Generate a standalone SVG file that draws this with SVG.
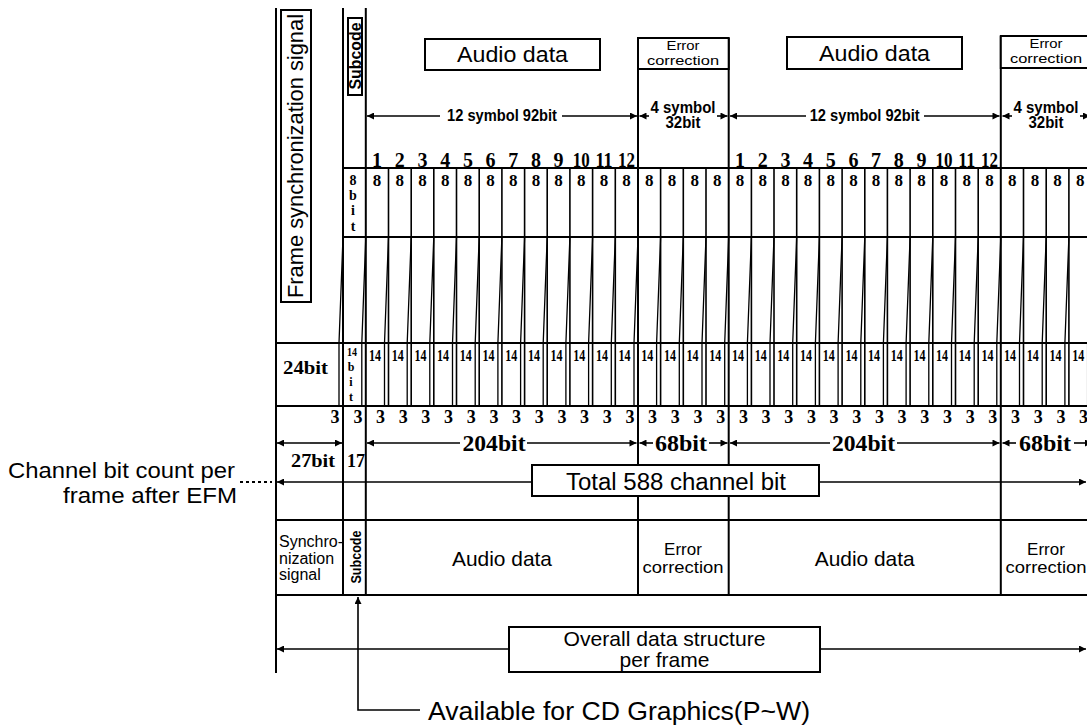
<svg xmlns="http://www.w3.org/2000/svg" width="1087" height="727" viewBox="0 0 1087 727">
<defs>
<marker id="ah" viewBox="0 0 10 10" refX="10" refY="5" markerWidth="10" markerHeight="7" markerUnits="userSpaceOnUse" orient="auto-start-reverse"><path d="M0,0 L10,5 L0,10 z" fill="#000"/></marker>
</defs>
<style>
.ln{stroke:#000;stroke-width:2;fill:none}
.th{stroke:#000;stroke-width:1.6;fill:none}
.sl{stroke:#000;stroke-width:1.3;fill:none}
.ar{stroke:#000;stroke-width:1.6;fill:none;marker-end:url(#ah)}
.box{fill:#fff;stroke:#000;stroke-width:2}
.s{font-family:"Liberation Sans",Arial,sans-serif;fill:#000}
.c{text-anchor:middle}
.d{font-family:"Liberation Serif","Times New Roman",serif;font-weight:bold;fill:#000;text-anchor:middle}
.n1{font-size:20px}
.n8{font-size:17px}
.n14{font-size:16px}
.n3{font-size:18px}
.nb{font-size:24px}
</style>
<rect x="0" y="0" width="1087" height="727" fill="#fff"/>

<g id="grid">
<path class="ln" d="M343,168H1087 M343,237H1087 M276,343H1087 M276,406H1087 M276,520H1087 M276,595H1087"/>
<path class="ln" d="M276,8V673 M343,8V595 M365.8,8V595 M638,38V465 M638,496V595 M728.7,38V465 M728.7,496V595 M1000.8,36V595"/>
<path class="th" d="M388.5,168V406 M411.2,168V406 M433.8,168V406 M456.5,168V406 M479.2,168V406 M501.9,168V406 M524.6,168V406 M547.2,168V406 M569.9,168V406 M592.6,168V406 M615.3,168V406 M660.6,168V406 M683.3,168V406 M706,168V406 M751.4,168V406 M774,168V406 M796.7,168V406 M819.4,168V406 M842.1,168V406 M864.8,168V406 M887.4,168V406 M910.1,168V406 M932.8,168V406 M955.5,168V406 M978.2,168V406 M1023.5,168V406 M1046.2,168V406 M1068.9,168V406"/>
<path class="sl" d="M343,237L339,343V406 M365.8,237L361.8,343V406 M388.5,237L384.5,343V406 M411.2,237L407.2,343V406 M433.8,237L429.8,343V406 M456.5,237L452.5,343V406 M479.2,237L475.2,343V406 M501.9,237L497.9,343V406 M524.6,237L520.6,343V406 M547.2,237L543.2,343V406 M569.9,237L565.9,343V406 M592.6,237L588.6,343V406 M615.3,237L611.3,343V406 M638,237L634,343V406 M660.6,237L656.6,343V406 M683.3,237L679.3,343V406 M706,237L702,343V406 M728.7,237L724.7,343V406 M751.4,237L747.4,343V406 M774,237L770,343V406 M796.7,237L792.7,343V406 M819.4,237L815.4,343V406 M842.1,237L838.1,343V406 M864.8,237L860.8,343V406 M887.4,237L883.4,343V406 M910.1,237L906.1,343V406 M932.8,237L928.8,343V406 M955.5,237L951.5,343V406 M978.2,237L974.2,343V406 M1000.8,237L996.8,343V406 M1023.5,237L1019.5,343V406 M1046.2,237L1042.2,343V406 M1068.9,237L1064.9,343V406 M1091.6,237L1087.6,343V406"/>
</g>

<g id="frame-sync">
<rect class="box" x="281" y="10" width="30" height="292"/>
<text class="s c" font-size="22" transform="translate(303,156) rotate(-90)" textLength="284" lengthAdjust="spacingAndGlyphs">Frame synchronization signal</text>
<text class="d" font-size="19" x="305.5" y="374" textLength="45" lengthAdjust="spacingAndGlyphs">24bit</text>
<text class="d n3" x="335" y="423">3</text>
<text class="d" font-size="18" x="313" y="467" textLength="44" lengthAdjust="spacingAndGlyphs">27bit</text>
<text class="s" font-size="16" x="279" y="547" textLength="64" lengthAdjust="spacingAndGlyphs">Synchro-</text>
<text class="s" font-size="16" x="279" y="564">nization</text>
<text class="s" font-size="16" x="279" y="580">signal</text>
</g>

<g id="subcode">
<rect class="box" x="348" y="18" width="14" height="77"/>
<text class="s c" font-size="16" font-weight="bold" transform="translate(361,56) rotate(-90)" textLength="67" lengthAdjust="spacingAndGlyphs">Subcode</text>
<text class="d" font-size="14" x="353" y="185">8</text>
<text class="d" font-size="14" x="353" y="200">b</text>
<text class="d" font-size="14" x="353" y="215">i</text>
<text class="d" font-size="14" x="353" y="231">t</text>
<text class="d" font-size="12" x="352" y="356" textLength="10" lengthAdjust="spacingAndGlyphs">14</text>
<text class="d" font-size="12" x="351" y="371">b</text>
<text class="d" font-size="12" x="351" y="386">i</text>
<text class="d" font-size="12" x="351" y="401">t</text>
<text class="d n3" x="358" y="423">3</text>
<text class="d" font-size="18" x="356" y="467">17</text>
<text class="s c" font-size="14" font-weight="bold" transform="translate(361,557) rotate(-90)" textLength="53" lengthAdjust="spacingAndGlyphs">Subcode</text>
</g>

<g id="audio-data-1">
<rect class="box" x="425" y="39" width="175" height="31"/>
<text class="s c" font-size="22" x="512.5" y="62" textLength="111" lengthAdjust="spacingAndGlyphs">Audio data</text>
<text class="s c" font-size="21" x="502" y="566" textLength="100" lengthAdjust="spacingAndGlyphs">Audio data</text>
</g>
<g id="error-correction-1">
<rect class="box" x="638" y="38" width="90.7" height="31"/>
<text class="s c" font-size="13" x="683" y="50" textLength="33" lengthAdjust="spacingAndGlyphs">Error</text>
<text class="s c" font-size="13" x="683" y="65" textLength="72" lengthAdjust="spacingAndGlyphs">correction</text>
<text class="s c" font-size="17" x="683" y="555">Error</text>
<text class="s c" font-size="17" x="683" y="573" textLength="81" lengthAdjust="spacingAndGlyphs">correction</text>
</g>
<g id="audio-data-2">
<rect class="box" x="787" y="37" width="175" height="32"/>
<text class="s c" font-size="22" x="874.5" y="61" textLength="111" lengthAdjust="spacingAndGlyphs">Audio data</text>
<text class="s c" font-size="21" x="864.7" y="566" textLength="100" lengthAdjust="spacingAndGlyphs">Audio data</text>
</g>
<g id="error-correction-2">
<rect class="box" x="1000.8" y="36" width="100" height="32"/>
<text class="s c" font-size="13" x="1046" y="48" textLength="33" lengthAdjust="spacingAndGlyphs">Error</text>
<text class="s c" font-size="13" x="1046" y="63" textLength="72" lengthAdjust="spacingAndGlyphs">correction</text>
<text class="s c" font-size="17" x="1046" y="555">Error</text>
<text class="s c" font-size="17" x="1046" y="573" textLength="81" lengthAdjust="spacingAndGlyphs">correction</text>
</g>

<g id="symbol-numbers">
<text class="d n1" x="377.1" y="167">1</text><text class="d n1" x="399.8" y="167">2</text><text class="d n1" x="422.5" y="167">3</text><text class="d n1" x="445.2" y="167">4</text><text class="d n1" x="467.9" y="167">5</text><text class="d n1" x="490.5" y="167">6</text><text class="d n1" x="513.2" y="167">7</text><text class="d n1" x="535.9" y="167">8</text><text class="d n1" x="558.6" y="167">9</text><text class="d n1" x="581.3" y="167" textLength="17" lengthAdjust="spacingAndGlyphs">10</text><text class="d n1" x="603.9" y="167" textLength="17" lengthAdjust="spacingAndGlyphs">11</text><text class="d n1" x="626.6" y="167" textLength="17" lengthAdjust="spacingAndGlyphs">12</text>
<text class="d n1" x="740" y="167">1</text><text class="d n1" x="762.7" y="167">2</text><text class="d n1" x="785.4" y="167">3</text><text class="d n1" x="808.1" y="167">4</text><text class="d n1" x="830.7" y="167">5</text><text class="d n1" x="853.4" y="167">6</text><text class="d n1" x="876.1" y="167">7</text><text class="d n1" x="898.8" y="167">8</text><text class="d n1" x="921.5" y="167">9</text><text class="d n1" x="944.1" y="167" textLength="17" lengthAdjust="spacingAndGlyphs">10</text><text class="d n1" x="966.8" y="167" textLength="17" lengthAdjust="spacingAndGlyphs">11</text><text class="d n1" x="989.5" y="167" textLength="17" lengthAdjust="spacingAndGlyphs">12</text>
</g>

<g id="bits-8">
<text class="d n8" x="377.1" y="186">8</text><text class="d n8" x="399.8" y="186">8</text><text class="d n8" x="422.5" y="186">8</text><text class="d n8" x="445.2" y="186">8</text><text class="d n8" x="467.9" y="186">8</text><text class="d n8" x="490.5" y="186">8</text><text class="d n8" x="513.2" y="186">8</text><text class="d n8" x="535.9" y="186">8</text><text class="d n8" x="558.6" y="186">8</text><text class="d n8" x="581.3" y="186">8</text><text class="d n8" x="603.9" y="186">8</text><text class="d n8" x="626.6" y="186">8</text><text class="d n8" x="649.3" y="186">8</text><text class="d n8" x="672" y="186">8</text><text class="d n8" x="694.7" y="186">8</text><text class="d n8" x="717.3" y="186">8</text>
<text class="d n8" x="740" y="186">8</text><text class="d n8" x="762.7" y="186">8</text><text class="d n8" x="785.4" y="186">8</text><text class="d n8" x="808.1" y="186">8</text><text class="d n8" x="830.7" y="186">8</text><text class="d n8" x="853.4" y="186">8</text><text class="d n8" x="876.1" y="186">8</text><text class="d n8" x="898.8" y="186">8</text><text class="d n8" x="921.5" y="186">8</text><text class="d n8" x="944.1" y="186">8</text><text class="d n8" x="966.8" y="186">8</text><text class="d n8" x="989.5" y="186">8</text><text class="d n8" x="1012.2" y="186">8</text><text class="d n8" x="1034.9" y="186">8</text><text class="d n8" x="1057.5" y="186">8</text><text class="d n8" x="1080.2" y="186">8</text>
</g>

<g id="bits-14">
<text class="d n14" x="375.1" y="361" textLength="12" lengthAdjust="spacingAndGlyphs">14</text><text class="d n14" x="397.8" y="361" textLength="12" lengthAdjust="spacingAndGlyphs">14</text><text class="d n14" x="420.5" y="361" textLength="12" lengthAdjust="spacingAndGlyphs">14</text><text class="d n14" x="443.1" y="361" textLength="12" lengthAdjust="spacingAndGlyphs">14</text><text class="d n14" x="465.8" y="361" textLength="12" lengthAdjust="spacingAndGlyphs">14</text><text class="d n14" x="488.5" y="361" textLength="12" lengthAdjust="spacingAndGlyphs">14</text><text class="d n14" x="511.2" y="361" textLength="12" lengthAdjust="spacingAndGlyphs">14</text><text class="d n14" x="533.9" y="361" textLength="12" lengthAdjust="spacingAndGlyphs">14</text><text class="d n14" x="556.5" y="361" textLength="12" lengthAdjust="spacingAndGlyphs">14</text><text class="d n14" x="579.2" y="361" textLength="12" lengthAdjust="spacingAndGlyphs">14</text><text class="d n14" x="601.9" y="361" textLength="12" lengthAdjust="spacingAndGlyphs">14</text><text class="d n14" x="624.6" y="361" textLength="12" lengthAdjust="spacingAndGlyphs">14</text><text class="d n14" x="647.3" y="361" textLength="12" lengthAdjust="spacingAndGlyphs">14</text><text class="d n14" x="669.9" y="361" textLength="12" lengthAdjust="spacingAndGlyphs">14</text><text class="d n14" x="692.6" y="361" textLength="12" lengthAdjust="spacingAndGlyphs">14</text><text class="d n14" x="715.3" y="361" textLength="12" lengthAdjust="spacingAndGlyphs">14</text>
<text class="d n14" x="738" y="361" textLength="12" lengthAdjust="spacingAndGlyphs">14</text><text class="d n14" x="760.7" y="361" textLength="12" lengthAdjust="spacingAndGlyphs">14</text><text class="d n14" x="783.3" y="361" textLength="12" lengthAdjust="spacingAndGlyphs">14</text><text class="d n14" x="806" y="361" textLength="12" lengthAdjust="spacingAndGlyphs">14</text><text class="d n14" x="828.7" y="361" textLength="12" lengthAdjust="spacingAndGlyphs">14</text><text class="d n14" x="851.4" y="361" textLength="12" lengthAdjust="spacingAndGlyphs">14</text><text class="d n14" x="874.1" y="361" textLength="12" lengthAdjust="spacingAndGlyphs">14</text><text class="d n14" x="896.7" y="361" textLength="12" lengthAdjust="spacingAndGlyphs">14</text><text class="d n14" x="919.4" y="361" textLength="12" lengthAdjust="spacingAndGlyphs">14</text><text class="d n14" x="942.1" y="361" textLength="12" lengthAdjust="spacingAndGlyphs">14</text><text class="d n14" x="964.8" y="361" textLength="12" lengthAdjust="spacingAndGlyphs">14</text><text class="d n14" x="987.5" y="361" textLength="12" lengthAdjust="spacingAndGlyphs">14</text><text class="d n14" x="1010.1" y="361" textLength="12" lengthAdjust="spacingAndGlyphs">14</text><text class="d n14" x="1032.8" y="361" textLength="12" lengthAdjust="spacingAndGlyphs">14</text><text class="d n14" x="1055.5" y="361" textLength="12" lengthAdjust="spacingAndGlyphs">14</text><text class="d n14" x="1078.2" y="361" textLength="12" lengthAdjust="spacingAndGlyphs">14</text>
</g>

<g id="bits-3">
<text class="d n3" x="380.5" y="423">3</text><text class="d n3" x="403.2" y="423">3</text><text class="d n3" x="425.8" y="423">3</text><text class="d n3" x="448.5" y="423">3</text><text class="d n3" x="471.2" y="423">3</text><text class="d n3" x="493.9" y="423">3</text><text class="d n3" x="516.6" y="423">3</text><text class="d n3" x="539.2" y="423">3</text><text class="d n3" x="561.9" y="423">3</text><text class="d n3" x="584.6" y="423">3</text><text class="d n3" x="607.3" y="423">3</text><text class="d n3" x="630" y="423">3</text><text class="d n3" x="652.6" y="423">3</text><text class="d n3" x="675.3" y="423">3</text><text class="d n3" x="698" y="423">3</text><text class="d n3" x="720.7" y="423">3</text>
<text class="d n3" x="743.4" y="423">3</text><text class="d n3" x="766" y="423">3</text><text class="d n3" x="788.7" y="423">3</text><text class="d n3" x="811.4" y="423">3</text><text class="d n3" x="834.1" y="423">3</text><text class="d n3" x="856.8" y="423">3</text><text class="d n3" x="879.4" y="423">3</text><text class="d n3" x="902.1" y="423">3</text><text class="d n3" x="924.8" y="423">3</text><text class="d n3" x="947.5" y="423">3</text><text class="d n3" x="970.2" y="423">3</text><text class="d n3" x="992.8" y="423">3</text><text class="d n3" x="1015.5" y="423">3</text><text class="d n3" x="1038.2" y="423">3</text><text class="d n3" x="1060.9" y="423">3</text><text class="d n3" x="1083.6" y="423">3</text>
</g>

<g id="labels">
<text class="s c" font-size="16" font-weight="bold" x="502" y="121" textLength="110" lengthAdjust="spacingAndGlyphs">12 symbol 92bit</text>
<text class="s c" font-size="16" font-weight="bold" x="864.7" y="121" textLength="110" lengthAdjust="spacingAndGlyphs">12 symbol 92bit</text>
<text class="s c" font-size="16" font-weight="bold" x="683" y="113" textLength="65" lengthAdjust="spacingAndGlyphs">4 symbol</text>
<text class="s c" font-size="16" font-weight="bold" x="683" y="128" textLength="35" lengthAdjust="spacingAndGlyphs">32bit</text>
<text class="s c" font-size="16" font-weight="bold" x="1046" y="113" textLength="65" lengthAdjust="spacingAndGlyphs">4 symbol</text>
<text class="s c" font-size="16" font-weight="bold" x="1046" y="128" textLength="35" lengthAdjust="spacingAndGlyphs">32bit</text>
<text class="d nb" x="494" y="451" textLength="63" lengthAdjust="spacingAndGlyphs">204bit</text>
<text class="d nb" x="681" y="451" textLength="52" lengthAdjust="spacingAndGlyphs">68bit</text>
<text class="d nb" x="863.5" y="451" textLength="63" lengthAdjust="spacingAndGlyphs">204bit</text>
<text class="d nb" x="1045" y="451" textLength="52" lengthAdjust="spacingAndGlyphs">68bit</text>
<text class="s" font-size="22" x="235" y="478" text-anchor="end" textLength="227" lengthAdjust="spacingAndGlyphs">Channel bit count per</text>
<text class="s" font-size="22" x="237" y="503" text-anchor="end" textLength="174" lengthAdjust="spacingAndGlyphs">frame after EFM</text>
<text class="s" font-size="26" x="428" y="720" textLength="382" lengthAdjust="spacingAndGlyphs">Available for CD Graphics(P~W)</text>
</g>

<g id="total-box">
<rect class="box" x="532" y="465" width="287" height="31"/>
<text class="s c" font-size="23" x="676" y="490" textLength="220" lengthAdjust="spacingAndGlyphs">Total 588 channel bit</text>
</g>
<g id="overall-box">
<rect class="box" x="509" y="627" width="311" height="45"/>
<text class="s c" font-size="21" x="664.5" y="646" textLength="202" lengthAdjust="spacingAndGlyphs">Overall data structure</text>
<text class="s c" font-size="21" x="664.5" y="667">per frame</text>
</g>

<g id="connectors">
<line class="ar" x1="440" y1="116" x2="367" y2="116"/>
<line class="ar" x1="562" y1="116" x2="637" y2="116"/>
<line class="ar" x1="649" y1="116" x2="639.5" y2="116"/>
<line class="ar" x1="717" y1="116" x2="727.5" y2="116"/>
<line class="ar" x1="806" y1="116" x2="730" y2="116"/>
<line class="ar" x1="924" y1="116" x2="999.5" y2="116"/>
<line class="ar" x1="1012" y1="116" x2="1002.5" y2="116"/>
<line class="ar" x1="1080" y1="116" x2="1090" y2="116"/>
<line class="ar" x1="310" y1="443" x2="277" y2="443"/>
<line class="ar" x1="310" y1="443" x2="342" y2="443"/>
<line class="ar" x1="460" y1="443" x2="367" y2="443"/>
<line class="ar" x1="527" y1="443" x2="636.5" y2="443"/>
<line class="ar" x1="653" y1="443" x2="639.5" y2="443"/>
<line class="ar" x1="709" y1="443" x2="727.5" y2="443"/>
<line class="ar" x1="830" y1="443" x2="730" y2="443"/>
<line class="ar" x1="897" y1="443" x2="999.5" y2="443"/>
<line class="ar" x1="1016" y1="443" x2="1002.5" y2="443"/>
<line class="ar" x1="1074" y1="443" x2="1092" y2="443"/>
<line class="ar" x1="531" y1="482" x2="277" y2="482"/>
<line class="ar" x1="820" y1="482" x2="1086" y2="482"/>
<line class="ar" x1="508" y1="649" x2="277" y2="649"/>
<line class="ar" x1="821" y1="649" x2="1086" y2="649"/>
<path class="ar" d="M420,710H358V597"/>
<line x1="240" y1="482" x2="272" y2="482" stroke="#000" stroke-width="2" stroke-dasharray="3,3"/>
</g>
</svg>
